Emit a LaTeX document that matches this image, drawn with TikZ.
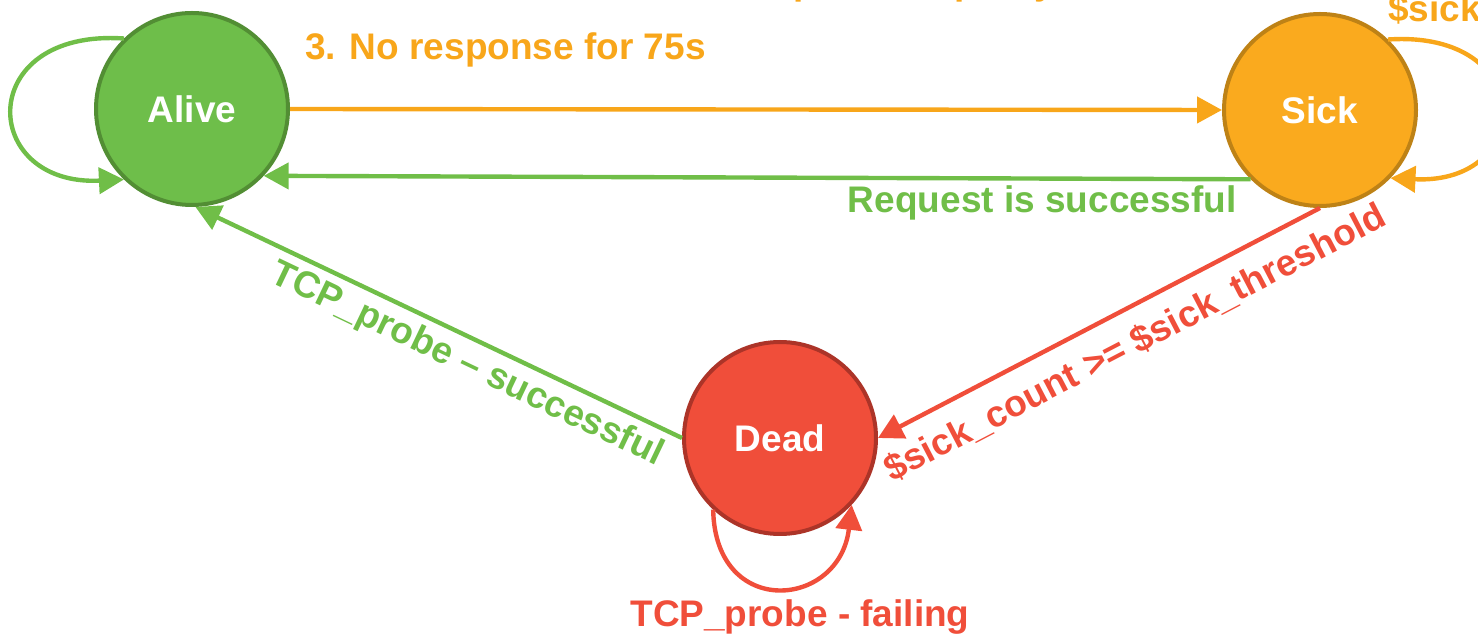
\documentclass[tikz,border=0pt]{standalone}
\usepackage{fontspec}
\setmainfont{Liberation Sans}
\usetikzlibrary{arrows.meta}

\definecolor{okgreen}{RGB}{112,190,72}
\definecolor{okgreenfill}{RGB}{110,190,74}
\definecolor{okgreendark}{RGB}{82,142,52}
\definecolor{warnorange}{RGB}{248,166,26}
\definecolor{warnfill}{RGB}{250,170,30}
\definecolor{warndark}{RGB}{190,130,22}
\definecolor{badred}{RGB}{240,78,58}
\definecolor{badfill}{RGB}{240,78,58}
\definecolor{baddark}{RGB}{172,52,40}

\newcommand{\lblfont}{\fontsize{18.5pt}{22pt}\selectfont\bfseries}

\tikzset{
  statenode/.style={circle, minimum size=96pt, inner sep=0pt, line width=2pt,
    text=white, font=\lblfont},
  alivestate/.style={statenode, fill=okgreenfill, draw=okgreendark},
  sickstate/.style={statenode, fill=warnfill, draw=warndark},
  deadstate/.style={statenode, fill=badfill, draw=baddark},
  edgelabel/.style={inner sep=0pt, font=\lblfont},
  trans/.style={line width=2.2pt, -{Triangle[length=12.5pt,width=13pt]}},
}

\begin{document}
\begin{tikzpicture}[x=0.5pt,y=-0.5pt]
\useasboundingbox (0,0) rectangle (1478,635);
\clip (0,0) rectangle (1478,635);

% states
\node[alivestate] (alive) at (192,109) {Alive};
\node[sickstate]  (sick)  at (1320,110) {Sick};
\node[deadstate]  (dead)  at (780,438) {Dead};

% transitions between states
\draw[trans, warnorange] (alive.east) -- (sick.west);
\draw[trans, okgreen] (sick.225) -- (alive.317);
\draw[trans, okgreen] (dead.west) -- (alive.272);
\draw[trans, badred] (sick.south) -- (dead.east);

% self loops
\draw[trans, okgreen] (alive.134) .. controls +(-150,-10) and +(-145,7) .. (alive.226);
\draw[trans, warnorange] (sick.46) .. controls +(150,-10) and +(145,7) .. (sick.316);
\draw[trans, badred] (dead.227) .. controls +(2,110) and +(-12,104) .. (dead.317);

% transition labels
\node[edgelabel, text=warnorange, anchor=base west] (lblpartly) at (681,-5) {2. Response is partly broken};
\node[edgelabel, text=warnorange, anchor=base west] (lblnoresp) at (305,60) {3. No response for 75s};
\node[edgelabel, text=warnorange, anchor=base west] (lblsickloop) at (1388,22) {\$sick\_count++};
\node[edgelabel, text=okgreen, anchor=base east] (lblreq) at (1237,213) {Request is successful};
\node[edgelabel, text=okgreen, rotate=-25.5] (lbltcpok) at (467,365) {TCP\_probe – successful};
\node[edgelabel, text=badred, rotate=27.5] (lblthresh) at (1135,343) {\$sick\_count >= \$sick\_threshold};
\node[edgelabel, text=badred, anchor=base] (lbltcpfail) at (800,627) {TCP\_probe - failing};
\end{tikzpicture}
\end{document}
